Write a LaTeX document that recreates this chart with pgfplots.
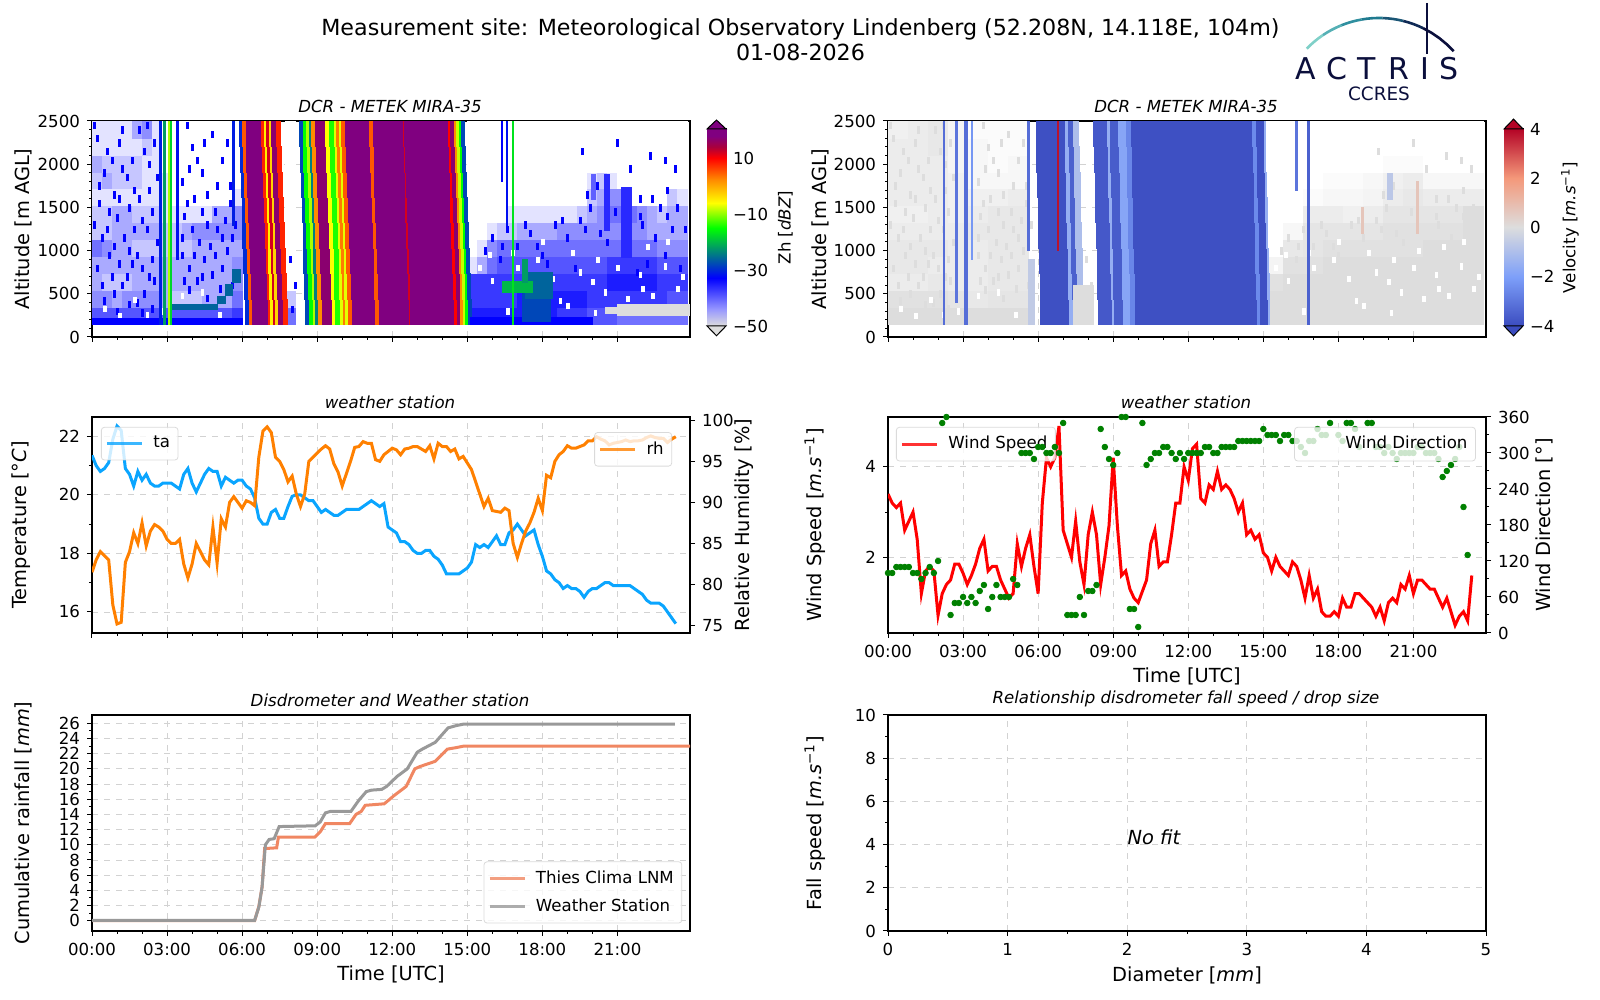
\documentclass[border=0pt]{standalone}
\usepackage{fontspec}
\setmainfont{DejaVu Sans}
\usepackage{pgfplots}
\usepackage{pgfplotstable}
\pgfplotsset{compat=1.18}
\def\ticksz{\fontsize{8.3}{10}\selectfont}
\def\lblsz{\fontsize{9.7}{12}\selectfont}

% radar cell: width in hours, height in metres (299pt/23.9h, 108pt/2500m)
\pgfdeclareplotmark{cell}{%
  \pgfpathrectangle{\pgfpoint{-0.5*\cw*12.51pt}{-0.5*\ch*0.0432pt}}{\pgfpoint{\cw*12.51pt}{\ch*0.0432pt}}%
  \pgfusepathqfillstroke}

\definecolor{cmgray}{HTML}{DDDDDD}
\pgfplotsset{
  colormap={zhfull}{color(0cm)=(cmgray); rgb255(6cm)=(150,150,255); rgb255(17cm)=(0,0,255); rgb255(26cm)=(0,128,128); rgb255(35cm)=(0,255,0); rgb255(44cm)=(255,255,0); rgb255(52cm)=(255,140,0); rgb255(60cm)=(255,0,0); rgb255(64cm)=(170,0,60); rgb255(68cm)=(128,0,128); rgb255(70cm)=(128,0,128); rgb255(71cm)=(255,255,255); rgb255(80cm)=(0,0,255)},
  colormap={zhbar}{color(0cm)=(cmgray); rgb255(6cm)=(150,150,255); rgb255(17cm)=(0,0,255); rgb255(26cm)=(0,128,128); rgb255(35cm)=(0,255,0); rgb255(44cm)=(255,255,0); rgb255(52cm)=(255,140,0); rgb255(60cm)=(255,0,0); rgb255(64cm)=(170,0,60); rgb255(68cm)=(128,0,128); rgb255(70cm)=(128,0,128)},
  colormap={vfull}{rgb255(0cm)=(59,76,192); rgb255(2cm)=(125,159,249); rgb255(4cm)=(221,221,221); rgb255(6cm)=(244,152,122); rgb255(8cm)=(180,4,38); rgb255(9cm)=(255,255,255); rgb255(18cm)=(221,221,221)},
  colormap={vbar}{rgb255(0cm)=(59,76,192); rgb255(2cm)=(125,159,249); rgb255(4cm)=(221,221,221); rgb255(6cm)=(244,152,122); rgb255(8cm)=(180,4,38)},
  panel/.style={
    scale only axis, width=299pt, height=108pt, anchor=south west,
    axis line style={line width=.6pt}, tick style={black,line width=.5pt},
    major tick length=2.5pt, minor tick length=1.5pt, tick align=outside,
    tick label style={font=\ticksz}, label style={font=\lblsz},
    /pgf/number format/assume math mode=true, /pgf/number format/1000 sep={},
    title style={font=\ticksz\itshape, at={(0.5,1)}, anchor=south, yshift=-5.5pt, xshift=-.5pt},
    grid style={dashed, gray!35, line width=.4pt},
    legend style={font=\ticksz, fill=white, fill opacity=.8, draw opacity=.8, text opacity=1, draw=gray!35, rounded corners=1.5pt, inner xsep=2pt, inner ysep=2.5pt, row sep=1pt},
    legend cell align=left,
    legend image code/.code={\draw[##1, line width=1.5pt] (0cm,0cm) -- (0.62cm,0cm); \path (0.72cm,0cm);},
  },
  hours/.style={xmin=0, xmax=23.9, xtick={0,3,...,21}, minor x tick num=2},
  hourlabels/.style={xticklabels={00:00,03:00,06:00,09:00,12:00,15:00,18:00,21:00}},
  nolabels/.style={xticklabels={}},
  ylab/.style={ylabel style={at={(axis description cs:#1,0.5)}, anchor=center}},
  xlab/.style={xlabel style={at={(axis description cs:0.5,#1)}, anchor=center}},
  cell/.style={scatter, only marks, mark=cell, mark options={line width=.1pt}, forget plot,
    scatter/use mapped color={fill=mapped color, draw=mapped color}},
  radar/.style={panel, hours, nolabels, axis on top, ymin=0, ymax=2500, ytick={0,500,...,2500}, minor y tick num=4,
    xmajorgrids, ymajorgrids, tick pos=left, title={DCR - METEK MIRA-35}, ylabel={Altitude [m AGL]}},
  cbar/.style={scale only axis, width=9.5pt, height=98.5pt, anchor=south west, xmin=0, xmax=1, xtick=\empty, clip=false,
    axis line style={line width=.5pt}, ytick pos=right, yticklabel pos=right, tick style={black,line width=.5pt}, major tick length=2.5pt,
    tick label style={font=\ticksz}, /pgf/number format/assume math mode=true,
    label style={font=\ticksz}, ylabel style={at={(axis description cs:#1,0.5)}, anchor=center}},
}

% weather station, one row per 10 minutes from 00:00
\pgfplotstableread{
ta rh ws wd
21.35 81.5 3.4 100
21.0 83 3.2 100
20.8 84 3.1 110
20.9 83.5 3.2 110
21.1 83 2.6 110
21.9 77.5 2.8 110
22.35 75.2 3.0 100
22.2 75.4 2.4 100
20.9 82.7 1.2 90
20.7 84 1.7 100
20.3 86.3 1.8 110
20.8 85 1.7 100
20.5 87.5 0.72 120
20.7 84.7 1.2 350
20.4 86.5 1.4 360
20.3 87.3 1.5 30
20.3 87 1.85 50
20.4 86.5 1.85 50
20.4 85.5 1.65 60
20.4 85 1.4 50
20.3 85 1.6 60
20.2 85.5 1.85 50
20.7 82.5 2.2 70
20.9 80.8 2.4 80
20.4 82.5 1.7 40
20.1 85 1.8 60
20.4 84 1.8 80
20.7 83 1.5 60
20.9 82.4 1.3 60
20.8 87 1.1 60
20.8 82.6 1.2 90
20.3 88 2.3 80
20.6 87 1.8 300
20.5 90 2.2 300
20.4 90.7 2.5 300
20.5 90 1.8 290
20.5 89.3 1.2 310
20.3 90.2 3.2 310
20.2 90 4.2 300
19.9 89.6 4.0 300
19.2 95.5 4.2 310
19.0 98.7 4.9 300
19.0 99.2 2.6 350
19.4 98.5 2.3 30
19.5 95.5 2.0 30
19.2 95 2.8 30
19.2 94 1.9 60
19.6 92.5 1.4 30
19.95 93.2 2.5 70
20.0 91 3.0 70
20.0 89.5 2.5 80
19.9 91 1.4 340
19.8 95 2.0 310
19.8 95.5 2.7 290
19.6 96 4.2 280
19.4 96.5 2.7 300
19.5 96.9 1.6 360
19.4 96.5 1.7 360
19.3 94.7 1.3 40
19.3 93.7 1.1 40
19.4 92 1.0 10
19.5 93.5 1.25 350
19.5 95 1.5 280
19.5 96.7 2.3 290
19.5 96.8 2.6 300
19.6 97.4 1.8 300
19.7 97.2 1.9 310
19.8 97.2 1.9 310
19.7 95.2 2.5 300
19.6 95 3.2 290
19.7 95.8 3.2 300
18.9 96.2 4.0 290
18.8 96.6 3.7 300
18.7 96.4 4.4 300
18.4 95.8 4.5 300
18.4 96.5 3.3 300
18.3 96.6 3.2 310
18.1 96.8 3.6 310
18.0 96.8 3.5 300
18.0 96.5 3.9 300
18.1 96.2 3.5 310
18.1 96.9 3.6 310
17.9 95.3 3.5 310
17.8 97.2 3.3 310
17.6 96.8 3.0 320
17.3 96.8 3.2 320
17.3 96.2 2.5 320
17.3 96.5 2.6 320
17.3 95.3 2.4 320
17.4 95.6 2.5 320
17.5 94.8 2.1 340
17.7 94 2.0 330
18.3 92.5 1.7 330
18.2 91 2.0 330
18.3 89.5 1.8 320
18.2 90.5 1.7 330
18.4 89 1.6 330
18.6 88.9 1.9 320
18.3 88.8 1.8 320
18.3 89.3 1.5 310
18.7 89 1.1 300
18.8 85 1.6 320
19.0 83.3 1.1 320
18.8 85 1.3 340
18.6 86.5 0.8 330
18.7 87.5 0.7 330
18.8 88.8 0.7 350
18.3 90.5 0.8 nan
17.9 89 0.7 330
17.4 93.3 1.1 320
17.3 93 0.9 350
17.1 95 0.9 350
17.0 95.8 1.2 340
16.8 96.2 1.2 310
16.9 96.9 1.1 nan
16.8 96.6 1.0 350
16.8 96.6 0.9 350
16.7 96.8 0.7 310
16.5 97 0.9 310
16.7 97.5 0.6 300
16.8 97.5 1.0 310
16.8 98 1.1 300
16.9 97.7 1.0 290
17.0 97.5 1.4 300
17.0 97 1.3 300
16.9 97.2 1.6 300
16.9 97.3 1.2 300
16.9 97.4 1.5 310
16.9 97.6 1.5 310
16.9 97.4 1.4 300
16.8 97.5 1.3 300
16.7 97.5 1.3 300
16.6 97.6 1.1 290
16.4 97.9 0.9 260
16.3 98.1 1.1 270
16.3 97.9 0.8 280
16.3 97.8 0.5 290
16.2 97.8 0.7 310
16.0 97.3 0.8 210
15.8 97.7 0.6 130
15.6 98 1.6 nan
}\wx

\pgfplotstableread{
h mm
0 0
6.5 0
6.67 1.9
6.8 4.5
6.9 9.5
7.38 9.6
7.45 11
8.9 11
9.12 11.7
9.33 12.8
10.3 12.8
10.55 14
10.76 14.4
10.92 15.2
11.68 15.4
12.08 16.5
12.56 17.7
12.9 20
13.1 20.3
13.72 21
14.2 22.6
14.55 22.8
14.85 23
23.9 23
}\thies
\pgfplotstableread{
h mm
0 0.05
6.5 0.05
6.67 1.8
6.8 4.5
6.93 10
7.08 10.7
7.28 10.8
7.48 12.4
8.92 12.5
9.12 13
9.33 14.2
9.53 14.4
10.35 14.4
10.65 15.8
10.96 17
11.17 17.2
11.58 17.3
11.78 17.7
12.19 19
12.6 20
13.0 22.2
13.2 22.6
13.72 23.5
14.23 25.4
14.55 25.7
14.85 25.9
23.3 25.9
}\gauge

% reflectivity: haze of the noisy parts, density 0-9 per 196 m row
\pgfplotstableread{
t r1 r2 r3 r4 r5 r6 r7 r8 r9 r10 r11 r12
0.2 6 4 3 3 5 2 2 1 2 3 1 1
0.6 6 4 2 3 4 2 2 1 3 2 1 1
1.0 6 3 2 3 3 3 3 1 2 2 1 1
1.4 6 4 2 3 3 3 3 1 2 2 1 1
1.8 6 4 3 3 2 3 2 1 2 2 1 3
2.2 6 4 3 3 2 3 2 1 1 1 2 4
2.6 6 4 3 3 2 3 2 1 1 1 1 1
3.0 6 3 3 3 2 2 1 1 1 0 0 0
3.4 6 2 3 3 2 2 1 0 0 0 0 0
3.8 6 2 3 3 2 3 1 0 0 0 0 0
4.2 6 2 3 3 3 4 1 0 0 0 0 0
4.6 6 3 3 3 3 4 1 0 0 0 0 0
5.0 6 3 3 3 3 4 3 0 0 0 0 0
5.4 6 3 3 3 3 4 3 0 0 0 0 0
5.8 7 5 4 4 3 4 4 1 0 0 0 0
7.9 5 2 0 0 0 0 0 0 0 0 0 0
15.2 8 7 7 1 0 0 0 0 0 0 0 0
15.6 8 7 7 3 1 0 0 0 0 0 0 0
16.0 8 7 7 5 4 1 0 0 0 0 0 0
16.4 8 7 7 6 5 2 0 0 0 0 0 0
16.8 8 7 7 6 5 2 1 0 0 0 0 0
17.2 8 8 7 6 5 3 1 0 0 0 0 0
17.6 8 8 7 6 5 3 1 0 0 0 0 0
18.0 8 8 7 6 5 3 1 0 0 0 0 0
18.4 8 8 7 6 5 3 1 0 0 0 0 0
18.8 7 8 7 6 5 4 1 0 0 0 0 0
19.2 7 8 7 6 5 4 1 0 0 0 0 0
19.6 7 8 7 6 5 4 2 0 0 0 0 0
20.0 6 7 7 6 5 4 3 2 1 0 0 0
20.4 6 7 7 6 5 4 4 3 2 0 0 0
20.8 6 7 8 7 5 4 5 4 1 0 0 0
21.2 5 7 8 7 5 4 5 4 0 0 0 0
21.6 5 7 8 7 5 4 5 0 0 0 0 0
22.0 5 7 8 7 5 4 4 0 0 0 0 0
22.4 5 7 8 7 5 3 3 0 0 0 0 0
22.8 5 7 7 6 4 3 2 0 0 0 0 0
23.2 5 6 7 6 4 3 3 2 0 0 0 0
23.6 5 6 7 6 4 3 3 1 0 0 0 0
}\zhaze
% single echoes, the same in both radar panels
\pgfplotstableread{
t y
0.2 2300
0.5 1900
0.8 2050
1.1 2250
1.4 1850
1.7 1700
1.9 2400
2.1 2150
2.3 2000
0.3 1550
0.7 1450
1.0 1380
1.5 1500
2.0 1350
2.4 1450
0.4 1150
0.9 1050
1.3 1150
1.8 950
2.2 1250
2.6 1100
0.2 800
0.8 700
1.2 600
1.6 850
2.1 500
2.5 650
0.5 420
1.0 300
1.5 380
2.0 280
2.4 330
3.7 1400
4.0 1250
4.3 1100
4.6 1300
4.9 1450
5.2 1150
5.5 1550
3.6 950
3.9 800
4.2 650
4.5 900
4.8 720
5.1 560
5.4 1000
5.7 1300
3.6 1800
4.0 2200
4.4 1900
4.8 2350
5.2 2050
3.8 2450
5.5 1750
4.6 1650
3.9 550
4.6 450
0.1 2450
0.6 2150
1.2 2400
1.6 2050
2.2 2450
2.5 2250
0.3 1750
0.9 1650
1.2 1950
1.9 1600
2.6 1850
0.1 1300
0.6 1250
1.1 1600
1.7 1250
2.3 1700
0.7 950
1.1 850
1.5 1000
2.0 800
2.4 900
0.4 600
0.9 500
1.4 700
1.8 400
2.3 700
3.6 1150
3.8 1550
4.1 1600
4.4 1450
4.7 1050
5.0 1250
5.3 1350
5.6 1150
3.7 650
4.1 950
4.4 700
4.9 950
5.2 800
5.6 600
4.2 2050
4.5 2250
5.0 1750
5.4 2250
3.9 1950
7.7 500
8.0 320
7.6 230
8.1 600
7.9 900
15.7 1000
16.0 1150
16.3 900
16.6 1250
17.0 1050
17.5 1200
18.0 950
18.5 1300
19.0 1150
19.5 1350
19.9 1500
20.3 1200
20.9 1450
22.0 1300
22.5 1150
23.0 1400
23.4 1500
23.7 1250
22.2 850
22.9 950
23.5 800
21.8 750
19.3 800
18.2 850
17.8 1050
16.4 1050
17.3 1300
18.8 1350
19.7 1250
20.6 1100
21.9 1400
22.7 1500
23.2 1250
19.6 2150
21.0 2250
21.5 1950
22.3 2100
22.9 2050
23.3 1950
22.4 1600
23.0 1700
19.8 1650
20.2 1750
21.9 1600
}\zspecks
% gaps in the dense lower echoes
\pgfplotstableread{
t y
0.5 330
1.1 250
1.7 430
2.2 260
2.8 300
3.6 480
4.4 520
5.1 260
15.5 800
16.0 650
16.6 300
17.0 800
17.8 900
18.4 680
19.0 360
19.5 750
20.1 280
20.5 520
21.0 800
21.4 440
21.9 720
22.4 480
22.9 820
23.4 560
15.9 950
16.8 980
18.0 1100
19.2 980
20.2 900
21.2 1000
22.2 1050
23.0 1100
18.7 420
20.0 640
22.0 560
23.6 700
}\zgaps
% full-height rain bands (start, end, dBZ at the top, they lean later lower down)
\pgfplotstableread{
a b z
5.85 6.0 -30
6.0 6.12 5
6.12 6.75 18
6.75 6.85 8
6.85 6.95 -5
6.95 7.05 12
7.05 7.15 -3
7.15 7.35 17
7.35 7.5 8
8.25 8.4 -28
8.4 8.55 -15
8.55 8.65 -9
8.65 8.75 -24
8.75 8.9 2
8.9 9.3 17
9.3 9.45 -6
9.45 9.65 -14
9.65 9.75 -7
9.75 9.85 3
9.85 9.95 -7
9.95 10.1 5
10.1 11.05 18
11.05 11.2 5
11.2 12.4 18
12.4 12.45 12
12.45 14.2 18
14.2 14.3 10
14.3 14.45 17
14.45 14.55 2
14.55 14.65 -8
14.65 14.75 -15
14.75 14.85 -28
}\zbands
% rectangles: start, end, lower, upper altitude, dBZ
\pgfplotstableread{
a b c d z
0 6 150 215 -33
15.1 20 150 230 -33
21 23.85 250 380 -50
20.5 21 280 350 -50
17.2 18.3 180 550 -28
17.3 18.4 450 750 -26
16.4 17.6 520 650 -20
17.2 17.4 630 900 -22
3.2 5.0 320 380 -26
5.0 5.3 390 470 -26
5.3 5.6 490 610 -26
5.6 5.9 630 790 -26
20.45 20.65 1235 1890 -36
19.95 20.1 1600 1890 -40
21.15 21.55 925 1736 -36
2.7 2.76 150 2500 -31
2.86 2.92 150 2500 -22
3.03 3.09 150 2500 -9
3.12 3.18 150 2500 -18
3.35 3.43 900 2500 -32
5.6 5.66 1300 2500 -31
16.35 16.41 1800 2500 -33
16.55 16.61 1300 2500 -32
16.78 16.84 150 2500 -17
}\zrects
% radial velocity
\pgfplotstableread{
t r1 r2 r3 r4 r5 r6 r7 r8 r9 r10 r11 r12
0.4 9 8 5 6 6 5 4 5 5 5 5 4
1.2 9 8 5 6 6 5 4 5 5 5 5 5
2.0 9 8 6 5 6 5 5 5 5 5 6 6
2.8 9 7 5 5 5 5 4 4 4 3 3 3
3.6 9 6 5 5 5 6 5 4 2 2 2 1
4.4 9 7 6 6 6 6 6 4 2 1 1 1
5.2 9 7 6 6 6 6 6 5 2 2 1 1
15.4 9 9 8 3 0 0 0 0 0 0 0 0
16.2 9 9 9 8 6 2 0 0 0 0 0 0
17.0 9 9 9 8 7 7 5 1 0 0 0 0
17.8 9 9 9 9 8 7 5 2 1 0 0 0
18.6 9 9 9 9 8 7 4 2 1 0 0 0
19.4 9 9 9 9 8 7 5 3 2 0 0 0
20.2 9 9 9 9 8 8 7 5 4 1 0 0
21.0 9 9 9 9 8 8 7 6 5 1 0 0
21.8 9 9 9 9 9 8 7 5 2 0 0 0
22.6 9 9 9 9 9 8 7 5 2 0 0 0
23.4 9 9 9 9 9 9 9 5 2 0 0 0
}\vhaze
\pgfplotstableread{
a b z
5.9 7.05 -3.9
7.05 7.2 -1.5
7.2 7.38 -3.5
7.38 7.6 -1
8.2 8.75 -3.7
8.75 8.85 -1.5
8.85 9.2 -3.6
9.2 9.5 -1.8
9.5 9.7 -2.6
9.7 14.55 -3.9
14.55 14.7 -2.5
14.7 15.0 -3.9
15.0 15.05 -1.5
}\vbands
\pgfplotstableread{
a b c d z
5.6 5.85 150 900 -0.6
7.4 8.2 150 600 0
18.9 19.0 1200 1500 0.7
21.1 21.17 1200 1800 0.7
19.95 20.15 1600 1900 -0.7
2.2 2.25 150 2500 -3.2
2.7 2.76 400 2500 -3
3.05 3.17 150 2500 -3.2
3.31 3.37 900 2500 -2.2
5.55 5.62 1000 2500 -3.2
16.28 16.36 1700 2500 -3
16.75 16.83 150 2500 -3.5
6.75 6.8 1000 2500 3.8
}\vrects

\begin{document}
\begin{tikzpicture}
\path (0,0) rectangle (800pt,500pt);

% reflectivity
\begin{axis}[radar, ylab=-0.115, at={(46pt,331.5pt)}, colormap name=zhfull, point meta min=-50, point meta max=30]
  \pgfplotsinvokeforeach{1,...,12}{
    \addplot[cell, visualization depends on={0.4\as\cw}, visualization depends on={196\as\ch}, point meta={\thisrow{r#1}+21}]
      table[x=t, y expr={52+196*#1}] {\zhaze};
  }
  \addplot[cell, visualization depends on={0.08\as\cw}, visualization depends on={75\as\ch}, point meta={-33}]
    table[x=t, y=y] {\zspecks};
  \addplot[cell, visualization depends on={0.1\as\cw}, visualization depends on={60\as\ch}, point meta={21}]
    table[x=t, y=y] {\zgaps};
  \pgfplotsinvokeforeach{297,591,885,1179,1472,1766,2060,2353}{
    \addplot[cell, visualization depends on={\thisrow{b}-\thisrow{a}\as\cw}, visualization depends on={294\as\ch}, point meta=\thisrow{z}]
      table[x expr={(\thisrow{a}+\thisrow{b})/2+(2500-#1)/2350*0.3}, y expr={#1}] {\zbands};
  }
  \addplot[cell, visualization depends on={\thisrow{b}-\thisrow{a}\as\cw}, visualization depends on={\thisrow{d}-\thisrow{c}\as\ch}, point meta=\thisrow{z}]
    table[x expr={(\thisrow{a}+\thisrow{b})/2}, y expr={(\thisrow{c}+\thisrow{d})/2}] {\zrects};
\end{axis}
\begin{axis}[cbar=4.13, at={(353.5pt,337pt)}, ymin=-50, ymax=20.4, ytick={-50,-30,-10,10}, yticklabels={−50,−30,−10,10},
  ylabel={Zh [\textit{dBZ}]}, colormap name=zhbar, point meta min=-50, point meta max=20]
  \addplot[surf, shader=interp, mesh/rows=11, point meta=y, forget plot] coordinates {
    (0,-50)(1,-50)(0,-44)(1,-44)(0,-33)(1,-33)(0,-24)(1,-24)(0,-15)(1,-15)(0,-6)(1,-6)(0,2)(1,2)(0,10)(1,10)(0,14)(1,14)(0,18)(1,18)(0,20.4)(1,20.4)};
  \addplot[fill=cmgray, draw=black, line width=.5pt] coordinates {(0,-50)(1,-50)(0.5,-53.5)} --cycle;
  \addplot[fill={rgb,255:red,128;green,0;blue,128}, draw=black, line width=.5pt] coordinates {(0,20.4)(1,20.4)(0.5,23.6)} --cycle;
\end{axis}

% velocity
\begin{axis}[radar, ylab=-0.113, at={(444pt,331.5pt)}, colormap name=vfull, point meta min=-4, point meta max=14]
  \pgfplotsinvokeforeach{1,...,12}{
    \addplot[cell, visualization depends on={0.8\as\cw}, visualization depends on={196\as\ch}, point meta={\thisrow{r#1}+5}]
      table[x=t, y expr={52+196*#1}] {\vhaze};
  }
  \addplot[cell, visualization depends on={0.08\as\cw}, visualization depends on={75\as\ch}, point meta={14}]
    table[x=t, y=y] {\zspecks};
  \addplot[cell, visualization depends on={0.1\as\cw}, visualization depends on={60\as\ch}, point meta={5}]
    table[x=t, y=y] {\zgaps};
  \pgfplotsinvokeforeach{297,591,885,1179,1472,1766,2060,2353}{
    \addplot[cell, visualization depends on={\thisrow{b}-\thisrow{a}\as\cw}, visualization depends on={294\as\ch}, point meta=\thisrow{z}]
      table[x expr={(\thisrow{a}+\thisrow{b})/2+(2500-#1)/2350*0.2}, y expr={#1}] {\vbands};
  }
  \addplot[cell, visualization depends on={\thisrow{b}-\thisrow{a}\as\cw}, visualization depends on={\thisrow{d}-\thisrow{c}\as\ch}, point meta=\thisrow{z}]
    table[x expr={(\thisrow{a}+\thisrow{b})/2}, y expr={(\thisrow{c}+\thisrow{d})/2}] {\vrects};
\end{axis}
\begin{axis}[cbar=3.47, at={(752pt,337pt)}, ymin=-4, ymax=4, ytick={-4,-2,0,2,4}, yticklabels={−4,−2,0,2,4},
  ylabel={Velocity [\textit{m.s}\textsuperscript{−1}]}, colormap name=vbar, point meta min=-4, point meta max=4]
  \addplot[surf, shader=interp, mesh/rows=5, point meta=y, forget plot] coordinates {
    (0,-4)(1,-4)(0,-2)(1,-2)(0,0)(1,0)(0,2)(1,2)(0,4)(1,4)};
  \addplot[fill={rgb,255:red,59;green,76;blue,192}, draw=black, line width=.5pt] coordinates {(0,-4)(1,-4)(0.5,-4.4)} --cycle;
  \addplot[fill={rgb,255:red,180;green,4;blue,38}, draw=black, line width=.5pt] coordinates {(0,4)(1,4)(0.5,4.4)} --cycle;
\end{axis}

% temperature and humidity
\begin{axis}[panel, hours, nolabels, at={(46pt,183.5pt)}, ymin=15.28, ymax=22.66, ytick={16,18,20,22}, minor y tick num=1,
  xmajorgrids, ymajorgrids, tick pos=left, title={weather station}, ylabel={Temperature [°\textit{C}]}, ylab=-0.118,
  legend style={at={(0.015,0.954)}, anchor=north west}]
  \addplot[color={rgb,255:red,10;green,165;blue,255}, line width=1.5pt] table[x expr=\coordindex/6, y=ta] {\wx};
  \addlegendentry{ta}
\end{axis}
\begin{axis}[panel, xmin=0, xmax=23.9, at={(46pt,183.5pt)}, axis x line=none, axis y line*=right, ymin=74.1, ymax=100.4,
  ytick={75,80,...,100}, ylabel={Relative Humidity [\%]}, ylab=1.09,
  legend style={at={(0.97,0.93)}, anchor=north east}]
  \addplot[color=orange, line width=1.5pt] table[x expr=\coordindex/6, y=rh] {\wx};
  \addlegendentry{rh}
\end{axis}

% wind
\begin{axis}[panel, hours, hourlabels, at={(444pt,183.5pt)}, ymin=0.33, ymax=5.1, ytick={2,4}, minor y tick num=1,
  xmajorgrids, ymajorgrids, tick pos=left, title={weather station}, ylabel={Wind Speed [\textit{m.s}\textsuperscript{−1}]}, ylab=-0.122,
  xlabel={Time [UTC]}, xlab=-0.2,
  legend style={at={(0.0133,0.954)}, anchor=north west}]
  \addplot[color=red, line width=1.5pt] table[x expr=\coordindex/6, y=ws] {\wx};
  \addlegendentry{Wind Speed}
\end{axis}
\begin{axis}[panel, xmin=0, xmax=23.9, at={(444pt,183.5pt)}, axis x line=none, axis y line*=right, ymin=0, ymax=360,
  ytick={0,60,...,360}, minor y tick num=1, ylabel={Wind Direction [°]}, ylab=1.097,
  legend style={at={(0.983,0.954)}, anchor=north east}]
  \addplot[only marks, mark=*, mark size=1.4pt, color={rgb,255:red,0;green,128;blue,0}, forget plot] table[x expr=\coordindex/6, y=wd] {\wx};
  \addlegendimage{opacity=0}
  \addlegendentry{Wind Direction}
\end{axis}

% rainfall
\begin{axis}[panel, hours, hourlabels, at={(46pt,34.5pt)}, ymin=-1.36, ymax=27.1, ytick={0,2,...,26}, minor y tick num=1,
  xmajorgrids, ymajorgrids, tick pos=left, title={Disdrometer and Weather station}, ylabel={Cumulative rainfall [\textit{mm}]}, ylab=-0.115,
  xlabel={Time [UTC]}, xlab=-0.2,
  legend style={at={(0.987,0.035)}, anchor=south east, row sep=2pt}]
  \addplot[color={rgb,255:red,240;green,135;blue,98}, line width=1.5pt] table[x=h, y=mm] {\thies};
  \addlegendentry{Thies Clima LNM}
  \addplot[color={rgb,255:red,153;green,153;blue,153}, line width=1.5pt] table[x=h, y=mm] {\gauge};
  \addlegendentry{Weather Station}
\end{axis}

% fall speed
\begin{axis}[panel, at={(444pt,34.5pt)}, xmin=0, xmax=5, ymin=0, ymax=10, xtick={0,...,5}, ytick={0,2,...,10},
  minor x tick num=1, minor y tick num=1, xmajorgrids, ymajorgrids, tick pos=left,
  title={Relationship disdrometer fall speed / drop size}, ylabel={Fall speed [\textit{m.s}\textsuperscript{−1}]}, ylab=-0.122,
  xlabel={Diameter [\textit{mm}]}, xlab=-0.205]
  \node[anchor=base west, font=\lblsz\itshape, inner sep=0pt] at (axis cs:2,4) {No fit};
\end{axis}

% figure title and logo, in reference pixels
\begin{scope}[x=.5pt, y=-.5pt, yshift=500pt]
  \node[font=\fontsize{11.1}{13}\selectfont] at (800.5,29.5) {Measurement site: Meteorological Observatory Lindenberg (52.208N, 14.118E, 104m)};
  \node[font=\fontsize{11.1}{13}\selectfont] at (800.5,52) {01-08-2026};
  \definecolor{lognavy}{HTML}{0B0F3C}
  \foreach \a/\b/\cc in {136/124/7FD0C8, 124/112/55B0B5, 112/100/2F8F9F, 100/88/1F7A8F, 88/76/1A5575, 76/64/0F2A55, 64/42/0B0F3C} {
    \definecolor{segc}{HTML}{\cc}
    \draw[segc, line width=1.3pt] plot[domain=\a:\b, samples=5] ({1379+100.4*cos(\x)},{118.4-100.4*sin(\x)});
  }
  \draw[lognavy, line width=1.1pt] (1427,3) -- (1427,54);
  \foreach \x/\l in {1306/A, 1337/C, 1367/T, 1399/R, 1425/I, 1449/S}
    \node[lognavy, font=\fontsize{15}{18}\selectfont, inner sep=0pt] at (\x,69) {\l};
  \node[lognavy, font=\fontsize{9.2}{11}\selectfont, inner sep=0pt] at (1379,94) {CCRES};
\end{scope}
\end{tikzpicture}
\end{document}
